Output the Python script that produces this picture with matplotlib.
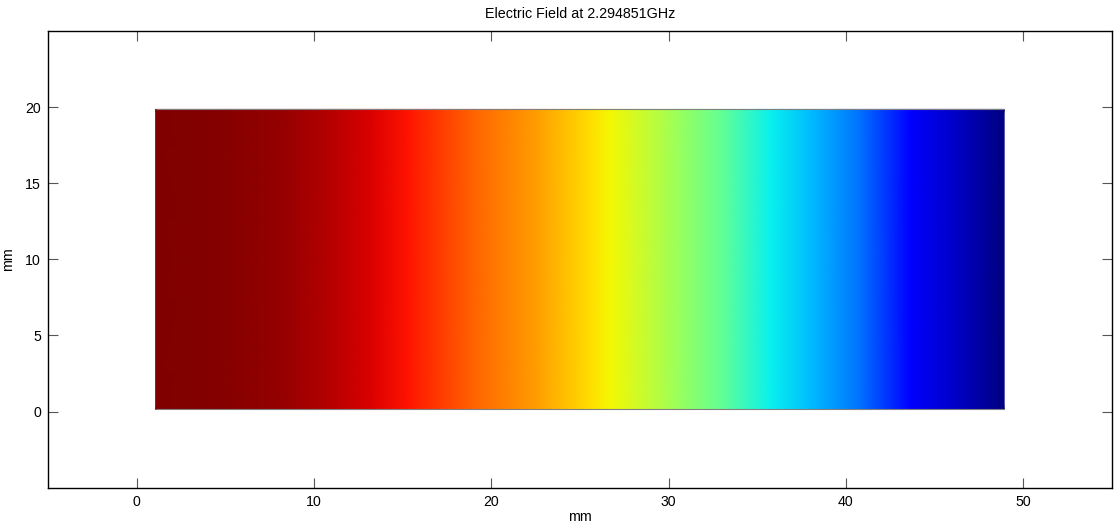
import matplotlib.pyplot as plt
import numpy as np

plt.rcParams['font.family'] = ['Liberation Sans', 'DejaVu Sans']

# field samples read across the strip (x in mm, normalised field value)
x_mm = [1.07, 4.57, 8.29, 10.94, 13.2, 15.28, 18.84, 22.62, 25.6, 26.7,
        30.3, 33.1, 35.76, 38.0, 40.8, 43.65, 46.5, 48.93]
field = [1.0, 0.993, 0.978, 0.952, 0.919, 0.89, 0.807, 0.74, 0.672, 0.645,
         0.545, 0.468, 0.36, 0.31, 0.235, 0.118, 0.055, 0.0]
y_mm = [0.15, 19.85]

x_ticks = [0, 10, 20, 30, 40, 50]
y_ticks = [0, 5, 10, 15, 20]

fig = plt.figure(figsize=(11.17, 5.28), dpi=100)
ax = fig.add_axes([0.043, 0.0763, 0.9523, 0.865])

X, Y = np.meshgrid(x_mm, y_mm)
Z = np.vstack([field, field])
ax.pcolormesh(X, Y, Z, cmap='jet', vmin=0, vmax=1, shading='gouraud')
# thin grey outline on the top and bottom edges of the strip
ax.hlines(y_mm, x_mm[0], x_mm[-1], colors='#808080', linewidth=0.8)

ax.set_xlim(-5, 55)
ax.set_ylim(-5, 25)
ax.set_xticks(x_ticks)
ax.set_yticks(y_ticks)
ax.tick_params(direction='in', length=7.5, width=0.8, color='#555555',
               top=True, right=True, labelsize=10.2, pad=5)
for s in ax.spines.values():
    s.set_linewidth(1.0)

ax.set_title('Electric Field at 2.294851GHz', fontsize=10.3, pad=9)
ax.set_xlabel('mm', fontsize=10.3, labelpad=1)
ax.set_ylabel('mm', fontsize=10.3, labelpad=7)

fig.savefig('out.png', dpi=100)
